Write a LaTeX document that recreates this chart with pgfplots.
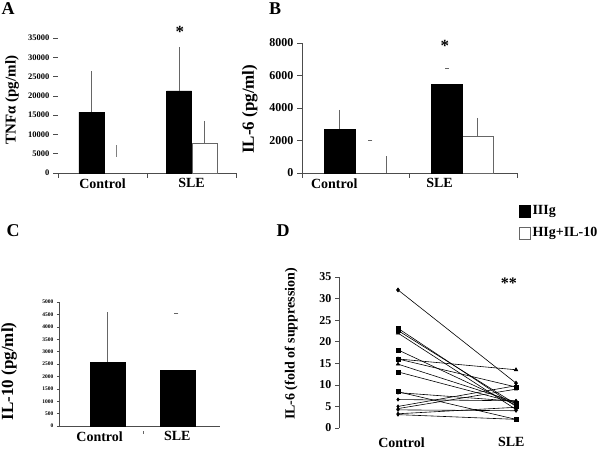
\documentclass[border=0pt]{standalone}
\usepackage{pgfplots}
\pgfplotsset{compat=1.18}
\usepackage{fontspec}
\setmainfont{Liberation Serif}

\pgfplotsset{
  panel/.style={
    scale only axis, anchor=south west, clip=false,
    axis x line*=bottom, axis y line*=left,
    tick align=outside, major tick length=5pt,
    /pgf/number format/assume math mode=true,
    /pgf/number format/1000 sep={},
    scaled y ticks=false,
    x axis line style={black!70, line width=0.7pt},
    y axis line style={black!70, line width=0.7pt},
    every tick/.style={black!70, line width=0.6pt},
    xtick={-0.5,0.5,1.5}, xticklabels={},
    extra x tick style={major tick length=0pt, tick label style={font=\fontsize{14}{14}\selectfont\bfseries, yshift=-2pt}},
    ymin=0,
  },
  errs/.style={error bars/.cd, y dir=plus, y explicit, error mark=-,
    error bar style={black!60, line width=0.7pt},
    error mark options={black!60, mark size=2pt, line width=0.7pt}},
}

\begin{document}
\begin{tikzpicture}
\useasboundingbox (0pt,0pt) rectangle (601pt,449pt);

% ---------------- Panel A ----------------
\begin{axis}[panel, at={(58pt,276pt)}, width=178pt, height=135pt,
  xmin=-0.5, xmax=1.5, ymax=35000, ytick distance=5000,
  y axis line style={draw=none},
  extra x ticks={0,1}, extra x tick labels={Control,SLE},
  yticklabel style={font=\fontsize{8.5}{8.5}\selectfont\bfseries},
  ylabel={TNFα (pg/ml)},
  every axis y label/.style={at={(axis description cs:-0.258,0.54)}, rotate=90, anchor=center,
    font=\fontsize{15}{15}\selectfont\bfseries},
]
% HIg (black)
\addplot[ybar, bar width=25pt, bar shift=0pt, fill=black, draw=black, errs]
  coordinates {(-0.124,15800) +- (0,10100) (0.86,21300) +- (0,10850)};
% HIg+IL-10 (white)
\addplot[ybar, bar width=25pt, bar shift=0pt, fill=white, draw=black!60, errs]
  coordinates {(1.146,7800) +- (0,5200)};
\addplot[black!50, line width=0.8pt] coordinates {(0.16,4150) (0.16,7260)};
\node at (axis cs:0.87,36600) {\fontsize{17}{17}\selectfont\bfseries *};
\end{axis}

% ---------------- Panel B ----------------
\begin{axis}[panel, at={(302pt,276pt)}, width=215pt, height=130pt,
  xmin=-0.5, xmax=1.5, ymax=8000, ytick distance=2000,
  extra x ticks={-0.2,0.78}, extra x tick labels={Control,SLE},
  yticklabel style={font=\fontsize{12}{12}\selectfont\bfseries},
  ylabel={IL-6 (pg/ml)},
  every axis y label/.style={at={(axis description cs:-0.242,0.49)}, rotate=90, anchor=center,
    font=\fontsize{17}{17}\selectfont\bfseries},
  legend style={at={(axis description cs:1.009,-0.235)}, anchor=north west, draw=none, fill=none,
    font=\fontsize{14}{14}\selectfont\bfseries, row sep=7pt, inner sep=0pt},
  legend cell align=left,
  legend image code/.code={\draw[#1] (0pt,-6pt) rectangle (11pt,6pt);},
]
\addplot[ybar, bar width=31pt, bar shift=0pt, fill=black, draw=black, errs]
  coordinates {(-0.151,2708) +- (0,1050)};
\addlegendentry{IIIg}
\addplot[ybar, bar width=31pt, bar shift=0pt, fill=white, draw=black!60, errs]
  coordinates {(1.133,2277) +- (0,985)};
\addlegendentry{HIg+IL-10}
\addplot[ybar, bar width=31pt, bar shift=0pt, fill=black, draw=black, forget plot]
  coordinates {(0.849,5477)};
\addplot[only marks, mark=-, mark size=2pt, black!60, forget plot] coordinates {(0.137,2031) (0.849,6461)};
\addplot[black!60, line width=0.8pt, forget plot] coordinates {(0.281,0) (0.281,1046)};
\node at (axis cs:0.83,7800) {\fontsize{17}{17}\selectfont\bfseries *};
\end{axis}

% ---------------- Panel C ----------------
\begin{axis}[panel, at={(59pt,23pt)}, width=161pt, height=124pt,
  xmin=-0.69, xmax=1.61, ymax=5000, ytick distance=500,
  xtick=\empty, major tick length=2pt,
  extra x ticks={-0.11,1.0}, extra x tick labels={Control,SLE},
  yticklabel style={font=\fontsize{5.5}{5.5}\selectfont\bfseries},
  ylabel={IL-10 (pg/ml)},
  every axis y label/.style={at={(axis description cs:-0.31,0.44)}, rotate=90, anchor=center,
    font=\fontsize{17}{17}\selectfont\bfseries},
]
\addplot[ybar, bar width=35pt, bar shift=0pt, fill=black, draw=black, errs]
  coordinates {(0,2581) +- (0,1935)};
\addplot[ybar, bar width=35pt, bar shift=0pt, fill=black, draw=black]
  coordinates {(1,2258)};
\addplot[only marks, mark=-, mark size=2pt, black!60] coordinates {(0.986,4556)};
\addplot[only marks, mark=|, mark size=1.5pt, black!60] coordinates {(0.51,-280)};
\end{axis}

% ---------------- Panel D ----------------
\begin{axis}[panel, at={(339pt,21pt)}, width=236pt, height=151pt,
  xmin=-0.5, xmax=1.5, ymax=35, ytick distance=5, major tick length=4pt,
  x axis line style={draw=none}, xtick=\empty,
  extra x ticks={0.03,0.96}, extra x tick labels={Control,SLE},
  extra x tick style={tick label style={yshift=-4pt}},
  yticklabel style={font=\fontsize{12}{12}\selectfont\bfseries},
  ylabel={IL-6 (fold of suppression)},
  every axis y label/.style={at={(axis description cs:-0.203,0.556)}, rotate=90, anchor=center,
    font=\fontsize{14}{14}\selectfont\bfseries},
  every axis plot/.append style={black, line width=0.6pt},
]
\addplot[mark=diamond*, mark size=2pt] coordinates {(0,32.0) (1,10.4)};
\addplot[mark=square*, mark size=2pt] coordinates {(0,23.1) (1,5.0)};
\addplot[mark=square*, mark size=2pt] coordinates {(0,22.6) (1,5.5)};
\addplot[mark=triangle*, mark size=2pt] coordinates {(0,22.0) (1,4.3)};
\addplot[mark=square*, mark size=2pt] coordinates {(0,18.1) (1,5.3)};
\addplot[mark=triangle*, mark size=2pt] coordinates {(0,16.0) (1,13.5)};
\addplot[mark=square*, mark size=2pt] coordinates {(0,16.0) (1,9.5)};
\addplot[mark=triangle*, mark size=2pt] coordinates {(0,14.8) (1,6.0)};
\addplot[mark=square*, mark size=2pt] coordinates {(0,13.0) (1,5.8)};
\addplot[mark=square*, mark size=2pt] coordinates {(0,8.4) (1,2.0)};
\addplot[mark=diamond*, mark size=1.6pt] coordinates {(0,8.2) (1,6.2)};
\addplot[mark=diamond*, mark size=1.6pt] coordinates {(0,6.6) (1,6.3)};
\addplot[mark=diamond*, mark size=1.6pt] coordinates {(0,5.0) (1,9.8)};
\addplot[mark=triangle*, mark size=1.6pt] coordinates {(0,4.5) (1,9.0)};
\addplot[mark=diamond*, mark size=1.6pt] coordinates {(0,4.2) (1,4.0)};
\addplot[mark=diamond*, mark size=1.6pt] coordinates {(0,3.3) (1,4.8)};
\addplot[mark=diamond*, mark size=1.6pt] coordinates {(0,3.1) (1,2.0)};
\node at (axis cs:0.94,33.6) {\fontsize{16}{16}\selectfont\bfseries **};
\end{axis}

% panel letters
\node[font=\fontsize{18}{18}\selectfont\bfseries] at (8pt,440pt) {A};
\node[font=\fontsize{18}{18}\selectfont\bfseries] at (275pt,440pt) {B};
\node[font=\fontsize{18}{18}\selectfont\bfseries] at (13pt,218pt) {C};
\node[font=\fontsize{18}{18}\selectfont\bfseries] at (283pt,218pt) {D};
\end{tikzpicture}
\end{document}
